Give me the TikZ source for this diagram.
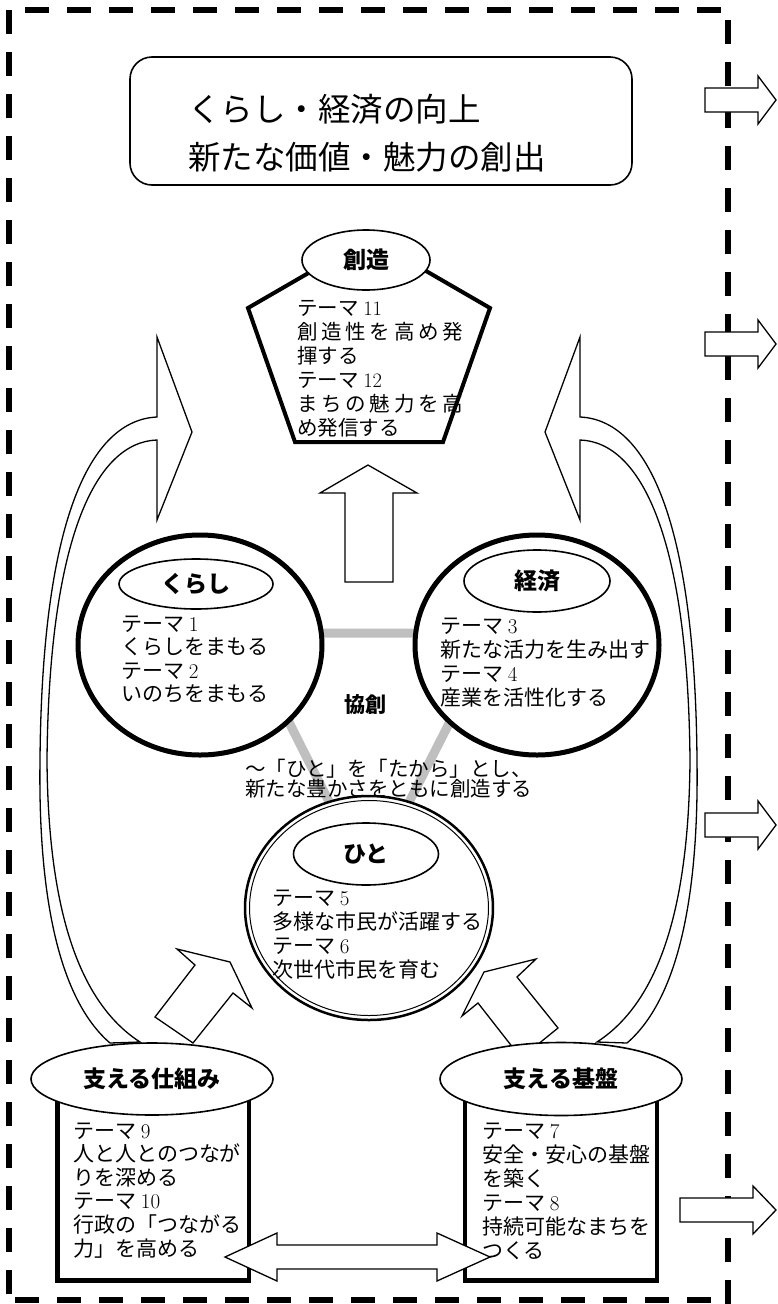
\documentclass[tikz,border=0pt]{standalone}
\usepackage{fontspec}
\newfontfamily\jp{Noto Sans CJK JP}
\usetikzlibrary{shapes.geometric}
\definecolor{linkgray}{RGB}{191,191,191}
\newcommand\jtab[2]{\vtop{\baselineskip=#1\lineskiplimit=-100pt\relax\halign{##\hfil\cr#2\crcr}}}
\newcommand\dg[1]{{\rmfamily #1}}
\newcommand\spread[1]{\hbox to 166pt{#1}}
\newcommand\outarrow[3]{\draw[blockarrow] (#1,#3-12) -- (#2,#3-12) -- (#2,#3-24) -- (776,#3) -- (#2,#3+24) -- (#2,#3+12) -- (#1,#3+12) -- cycle;}
\begin{document}
\begin{tikzpicture}[x=1pt,y=-1pt,
  framedash/.style={line width=5.5pt, dash pattern=on 23.5pt off 18.5pt},
  blockarrow/.style={draw, fill=white, line width=1.3pt, line join=miter},
  ring/.style={ellipse, draw, fill=white, line width=5pt, inner sep=0pt},
  tagell/.style={ellipse, draw, fill=white, line width=1.6pt, inner sep=0pt, font=\jp\bfseries\fontsize{23}{23}\selectfont},
  body/.style={inner sep=0pt, anchor=base west, font=\jp\fontsize{21}{24}\selectfont},
  link/.style={line width=9pt, draw=linkgray},
  heavybox/.style={draw, fill=white, line width=4.5pt, inner sep=0pt}
]
\useasboundingbox (0,0) rectangle (777,1304);
\fill[white] (0,0) rectangle (777,1304);

% dashed frame
\draw[framedash] (25,10) -- (722,10);
\draw[framedash] (9,10) -- (9,1294);
\draw[framedash] (15,1300) -- (712,1300);
\draw[framedash] (728,20) -- (728,1304);

% outgoing arrows
\outarrow{705}{758}{100}
\outarrow{705}{758}{344}
\outarrow{705}{758}{825}
\outarrow{680}{753}{1210}

% title
\node[draw, rounded corners=22pt, line width=1.6pt, minimum width=502pt, minimum height=128pt, inner sep=0pt] (title) at (381,121) {};
\node[anchor=west, inner sep=0pt, font=\jp\fontsize{32.5}{33}\selectfont] (title1) at (188,109) {くらし・経済の向上};
\node[anchor=west, inner sep=0pt, font=\jp\fontsize{32.5}{33}\selectfont] (title2) at (188,157) {新たな価値・魅力の創出};

% gray triangle
\coordinate (ta) at (244,633);
\coordinate (tb) at (495,633);
\coordinate (tc) at (369,881);
\draw[link] (ta) -- (tb) -- (tc) -- cycle;

% circles
\node[ring, minimum width=244pt, minimum height=220pt] (kurashi) at (200,645) {};
\node[ring, minimum width=244pt, minimum height=220pt] (keizai) at (537,645) {};
\node[ellipse, draw, fill=white, line width=2.5pt, minimum width=248pt, minimum height=224pt, inner sep=0pt] (hito) at (369,908) {};
\node[ellipse, draw, line width=1pt, minimum width=239pt, minimum height=215pt, inner sep=0pt] (hitoin) at (369,908) {};

\node[tagell, minimum width=154pt, minimum height=50pt] (kurashiL) at (196,584) {くらし};
\node[tagell, minimum width=146pt, minimum height=62pt] (keizaiL) at (537,581) {経済};
\node[tagell, minimum width=145pt, minimum height=62pt] (hitoL) at (366,854) {ひと};

\node[body] (kurashiT) at (121,631) {\jtab{23.5pt}{テーマ \dg{1}\cr くらしをまもる\cr テーマ \dg{2}\cr いのちをまもる}};
\node[body] (keizaiT) at (440,633) {\jtab{24pt}{テーマ \dg{3}\cr 新たな活力を生み出す\cr テーマ \dg{4}\cr 産業を活性化する}};
\node[body] (hitoT) at (272,905) {\jtab{24.3pt}{テーマ \dg{5}\cr 多様な市民が活躍する\cr テーマ \dg{6}\cr 次世代市民を育む}};

\node[inner sep=0pt, font=\jp\bfseries\fontsize{21}{21}\selectfont] (kyoso) at (365,705) {協創};
\node[body, font=\jp\fontsize{20.5}{20}\selectfont] (tagline) at (245,776) {\jtab{20pt}{～「ひと」を「たから」とし、\cr 新たな豊かさをともに創造する}};

% pentagon
\draw[line width=4pt, fill=white, line join=miter] (369,238) -- (490,308) -- (443,442) -- (295,442) -- (248,308) -- cycle;
\node[tagell, minimum width=128pt, minimum height=60pt] (sozoL) at (366,260) {創造};
\node[body, font=\jp\fontsize{20.5}{24}\selectfont] (sozoT) at (297,315) {\jtab{24pt}{テーマ \dg{11}\cr\spread{創\hfill 造\hfill 性\hfill を\hfill 高\hfill め\hfill 発}\cr 揮する\cr テーマ \dg{12}\cr\spread{ま\hfill ち\hfill の\hfill 魅\hfill 力\hfill を\hfill 高}\cr め発信する}};

% up arrow
\draw[blockarrow] (368,465) -- (417,493) -- (393,493) -- (393,582) -- (345,582) -- (345,493) -- (320,493) -- cycle;

% curved arrows
\draw[blockarrow] (110,1043) .. controls (60,1000) and (38,900) .. (40,760) .. controls (42,520) and (90,420) .. (157,417) -- (157,337) -- (192,432) -- (157,520) -- (157,440) .. controls (95,442) and (49,540) .. (47,760) .. controls (48,900) and (75,1000) .. (140,1042) -- cycle;
\begin{scope}[shift={(737,0)}, xscale=-1]
\draw[blockarrow] (110,1043) .. controls (60,1000) and (38,900) .. (40,760) .. controls (42,520) and (90,420) .. (157,417) -- (157,337) -- (192,432) -- (157,520) -- (157,440) .. controls (95,442) and (49,540) .. (47,760) .. controls (48,900) and (75,1000) .. (140,1042) -- cycle;
\end{scope}

% diagonal arrows
\draw[blockarrow] (155,1017) -- (195,965) -- (177,949) -- (230,962) -- (252,1008) -- (233,993) -- (193,1043) -- cycle;
\draw[blockarrow] (521,1058) -- (478,1003) -- (462,1016) -- (484,972) -- (536,959) -- (517,977) -- (558,1028) -- cycle;

% support boxes
\node[heavybox, minimum width=191.5pt, minimum height=190pt] (shikumiBox) at (153.25,1185.5) {};
\node[heavybox, minimum width=192pt, minimum height=190pt] (kibanBox) at (561,1185.5) {};
\node[tagell, minimum width=242pt, minimum height=72pt] (shikumiL) at (152,1079) {支える仕組み};
\node[tagell, minimum width=242pt, minimum height=73pt] (kibanL) at (561,1079) {支える基盤};

\node[body] (shikumiT) at (73,1138) {\jtab{23.6pt}{テーマ \dg{9}\cr 人と人とのつなが\cr りを深める\cr テーマ \dg{10}\cr 行政の「つながる\cr 力」を高める}};
\node[body] (kibanT) at (482,1138) {\jtab{24pt}{テーマ \dg{7}\cr 安全・安心の基盤\cr を築く\cr テーマ \dg{8}\cr 持続可能なまちを\cr つくる}};

% double arrow
\draw[blockarrow] (225,1257) -- (277,1233) -- (277,1245) -- (437,1245) -- (437,1233) -- (490,1257) -- (437,1281) -- (437,1269) -- (277,1269) -- (277,1281) -- cycle;
\end{tikzpicture}
\end{document}
